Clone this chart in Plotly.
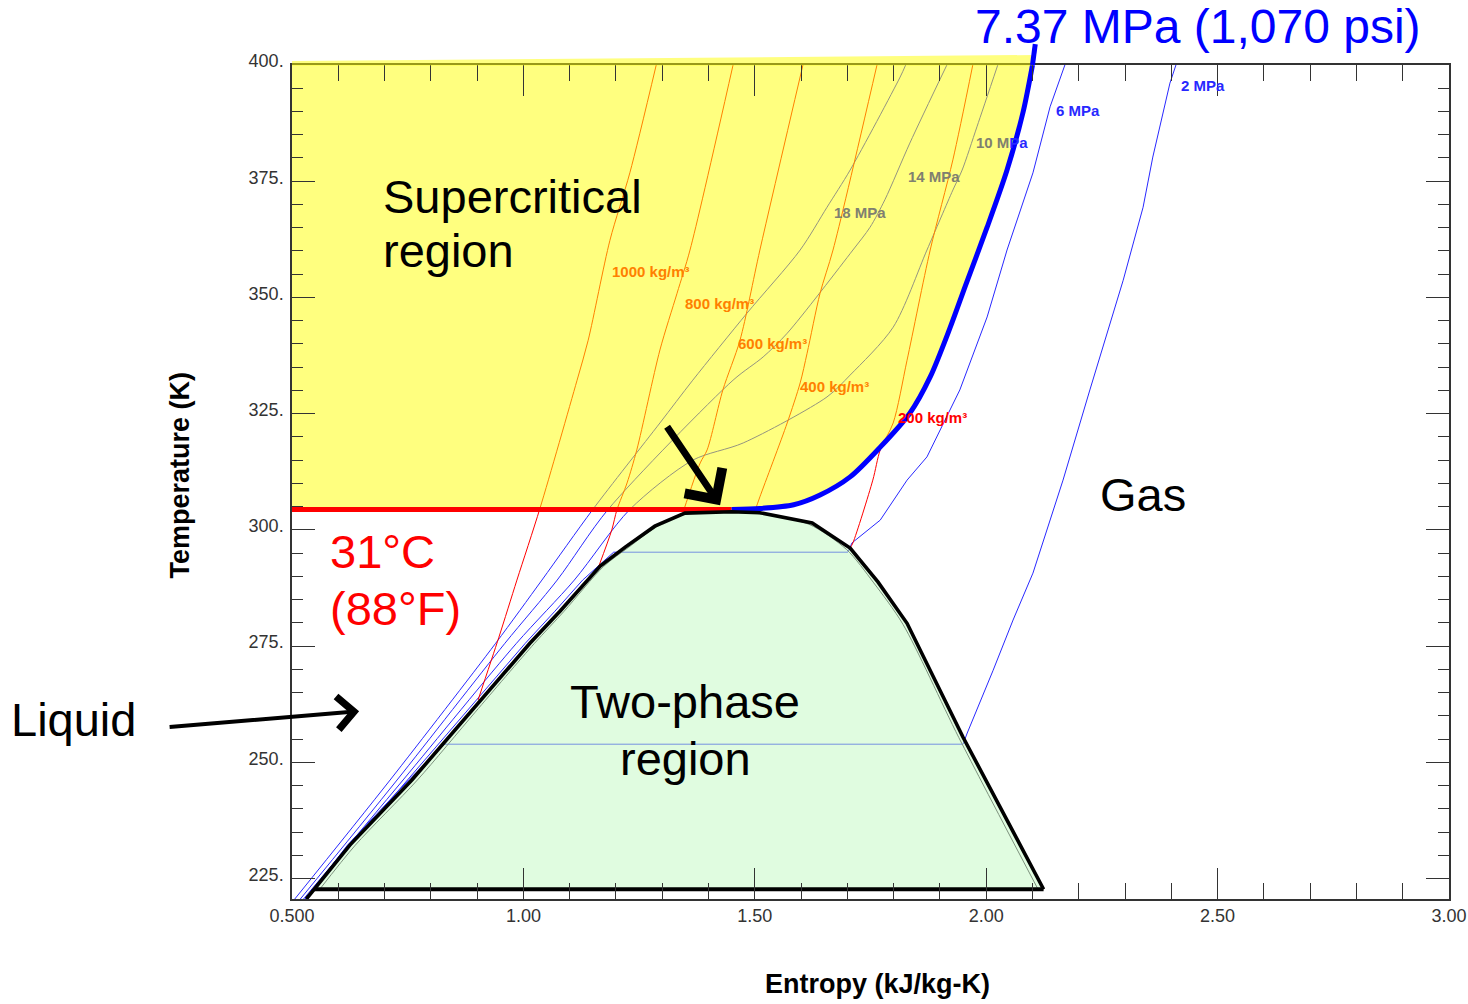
import plotly.graph_objects as go

# ---------------- data (entropy kJ/kg-K, temperature K) ----------------
x_tick_vals = [0.5, 1.0, 1.5, 2.0, 2.5, 3.0]
x_tick_text = ["0.500", "1.00", "1.50", "2.00", "2.50", "3.00"]
y_tick_vals = [225, 250, 275, 300, 325, 350, 375, 400]
y_tick_text = ["225.", "250.", "275.", "300.", "325.", "350.", "375.", "400."]

# saturation dome (black polyline)
dome_S = [0.531, 0.548, 0.625, 0.759, 0.885, 1.014, 1.079, 1.166, 1.220, 1.284, 1.349, 1.450,
          1.511, 1.624, 1.706, 1.766, 1.829, 1.950, 2.124]
dome_T = [220.6, 222.7, 232.2, 246.2, 260.8, 275.6, 282.5, 292.2, 296.3, 300.8, 303.6, 303.9,
          303.7, 301.5, 296.1, 288.8, 279.9, 255.4, 222.7]
base_S = [0.548, 2.124]
base_T = [222.7, 222.7]

# thin grey saturation curve just inside the dome
sat_S = [0.560, 0.637, 0.771, 0.896, 1.024, 1.088, 1.174, 1.228, 1.290, 1.352, 1.450, 1.508,
         1.617, 1.698, 1.757, 1.820, 1.941, 2.112]
sat_T = [222.7, 232.2, 246.2, 260.8, 275.6, 282.5, 292.2, 296.3, 300.8, 303.4, 303.7, 303.5,
         301.2, 295.8, 288.6, 279.7, 255.3, 222.7]

# critical isotherm 31 °C
crit_T = 304.4
crit_S = 1.450

# critical isobar 7.37 MPa (supercritical side)
p737_S = [1.450, 1.511, 1.584, 1.641, 1.706, 1.771, 1.835, 1.879, 1.922, 1.955, 2.002, 2.045, 2.080, 2.100]
p737_T = [304.4, 304.6, 305.4, 307.5, 311.4, 317.8, 325.1, 332.9, 343.5, 352.5, 365.1, 377.4, 390.0, 400.0]

# isobars
p2_S = [0.530, 0.620, 0.752, 0.830, 1.950, 1.959, 2.015, 2.058, 2.101, 2.166, 2.224, 2.296, 2.339, 2.360, 2.397, 2.410]
p2_T = [220.6, 232.2, 246.2, 253.9, 253.9, 256.3, 269.8, 280.6, 290.7, 310.7, 330.1, 353.7, 369.4, 380.2, 396.1, 400.0]
p6_S = [0.528, 0.750, 0.876, 1.004, 1.068, 1.128, 1.195, 1.701, 1.710, 1.771, 1.829, 1.872, 1.943, 2.002,
        2.045, 2.101, 2.138, 2.170]
p6_T = [220.6, 246.2, 260.8, 275.6, 282.5, 289.2, 295.2, 295.2, 297.2, 302.1, 310.7, 315.7, 330.1, 345.8,
        360.2, 376.8, 391.0, 400.0]
p10_S = [0.525, 0.740, 0.985, 1.110, 1.230, 1.366, 1.475, 1.656, 1.706, 1.799, 1.872, 1.928, 1.948, 1.980, 2.025]
p10_T = [220.6, 246.2, 275.6, 289.2, 304.4, 315.0, 318.7, 328.6, 333.3, 343.6, 360.2, 373.1, 377.4, 386.7, 400.0]
p14_S = [0.518, 0.727, 0.960, 1.073, 1.183, 1.453, 1.518, 1.570, 1.712, 1.749, 1.781, 1.835, 1.915]
p14_T = [220.6, 246.2, 275.6, 289.2, 304.4, 332.2, 337.2, 342.3, 360.2, 365.1, 371.0, 383.2, 400.0]
p18_S = [0.506, 0.712, 0.940, 1.040, 1.150, 1.295, 1.366, 1.483, 1.598, 1.656, 1.706, 1.814, 1.826]
p18_T = [220.6, 246.2, 275.6, 289.2, 304.4, 323.0, 332.2, 346.6, 360.2, 369.4, 377.4, 397.4, 400.0]

# isochores (density lines)
d1000_S = [0.902, 0.947, 0.986, 1.036, 1.116, 1.140, 1.187, 1.230, 1.287]
d1000_T = [263.4, 276.9, 289.2, 304.7, 332.2, 340.8, 362.3, 376.8, 400.0]
d800_S = [1.163, 1.191, 1.202, 1.224, 1.245, 1.295, 1.332, 1.360, 1.453]
d800_T = [292.2, 300.0, 304.3, 310.1, 317.2, 338.7, 350.9, 360.2, 400.0]
d600_S = [1.345, 1.382, 1.397, 1.431, 1.468, 1.511, 1.604]
d600_T = [303.8, 314.4, 317.2, 330.1, 340.8, 360.2, 400.0]
d400_S = [1.500, 1.511, 1.570, 1.598, 1.613, 1.641, 1.669, 1.764]
d400_T = [304.0, 307.1, 323.0, 331.6, 338.0, 350.9, 360.2, 400.0]
d200_S = [1.706, 1.712, 1.755, 1.771, 1.799, 1.829, 1.879, 1.928, 1.971]
d200_T = [296.1, 297.2, 310.7, 317.2, 323.0, 336.5, 360.2, 379.6, 400.0]

# ---------------- styles ----------------
FONT = "Liberation Sans, Arial, sans-serif"
BLUE = "rgb(40,40,255)"
RED = "rgb(255,0,0)"

fig = go.Figure()

def line(xs, ys, color, width, shape="linear"):
    fig.add_trace(go.Scatter(x=xs, y=ys, mode="lines", hoverinfo="skip",
                             line=dict(color=color, width=width, shape=shape, smoothing=0.8)))

# thin isobars and isochores
for s, t in [(p2_S, p2_T), (p6_S, p6_T)]:
    line(s, t, BLUE, 1)
for s, t in [(p10_S, p10_T), (p14_S, p14_T), (p18_S, p18_T)]:
    line(s, t, BLUE, 1, "spline")
for s, t in [(d1000_S, d1000_T), (d800_S, d800_T), (d600_S, d600_T), (d400_S, d400_T), (d200_S, d200_T)]:
    line(s, t, RED, 1, "spline")

# two-phase region (semi-transparent green)
fig.add_trace(go.Scatter(x=dome_S[1:] + [base_S[0]], y=dome_T[1:] + [base_T[0]], mode="lines",
                         fill="toself", fillcolor="rgba(193,249,193,0.5)", line=dict(width=0),
                         hoverinfo="skip"))
line(sat_S, sat_T, "rgb(125,145,125)", 1, "spline")

# supercritical region (semi-transparent yellow)
fig.add_trace(go.Scatter(x=[0.5] + p737_S + [0.5], y=[crit_T] + p737_T + [400.0], mode="lines",
                         fill="toself", fillcolor="rgba(255,255,0,0.5)", line=dict(width=0),
                         hoverinfo="skip"))

# heavy lines
line([0.5, crit_S], [crit_T, crit_T], RED, 5)
line(p737_S, p737_T, "rgb(0,0,255)", 5, "spline")
line(dome_S, dome_T, "black", 3.6)
line(base_S, base_T, "black", 4)

# ---------------- annotations ----------------
ann = []
def txt(text, x, y, size, color="black", xanchor="center", xref="paper", yref="paper", bold=False, angle=0):
    ann.append(dict(text=("<b>%s</b>" % text) if bold else text, x=x, y=y, xref=xref, yref=yref,
                    xanchor=xanchor, yanchor="middle", showarrow=False, textangle=angle,
                    font=dict(family=FONT, size=size, color=color)))

ORANGE = "rgb(255,128,0)"
GREY = "rgb(128,128,112)"
txt("1000 kg/m³", 1.276, 355.5, 15, ORANGE, xref="x", yref="y", bold=True)
txt("800 kg/m³", 1.423, 348.8, 15, ORANGE, xref="x", yref="y", bold=True)
txt("600 kg/m³", 1.539, 340.0, 15, ORANGE, xref="x", yref="y", bold=True)
txt("400 kg/m³", 1.673, 330.9, 15, ORANGE, xref="x", yref="y", bold=True)
txt("200 kg/m³", 1.883, 324.1, 15, RED, xref="x", yref="y", bold=True)
txt("18 MPa", 1.727, 368.2, 15, GREY, xref="x", yref="y", bold=True)
txt("14 MPa", 1.887, 376.1, 15, GREY, xref="x", yref="y", bold=True)
txt("10 M<span style='color:rgb(40,40,255)'>Pa</span>", 2.034, 383.4, 15, GREY, xref="x", yref="y", bold=True)
txt("6 MPa", 2.198, 390.3, 15, BLUE, xref="x", yref="y", bold=True)
txt("2 MPa", 2.468, 395.5, 15, BLUE, xref="x", yref="y", bold=True)

txt("7.37 MPa (1,070 psi)", 0.5886, 1.0459, 48, "rgb(0,0,255)", xanchor="left")
txt("Supercritical", 0.0770, 0.8421, 47, xanchor="left")
txt("region", 0.0770, 0.7780, 47, xanchor="left")
txt("31°C", 0.0310, 0.4164, 47, RED, xanchor="left")
txt("(88°F)", 0.0310, 0.3481, 47, RED, xanchor="left")
txt("Two-phase", 0.3397, 0.2366, 47)
txt("region", 0.3397, 0.1690, 47)
txt("Gas", 0.7355, 0.4848, 47)
txt("Liquid", -0.2450, 0.2150, 47, xanchor="left")

txt("Entropy (kJ/kg-K)", 0.506, -0.1025, 27, bold=True)
txt("Temperature (K)", -0.0968, 0.5078, 27, bold=True, angle=-90)

# arrows
ann.append(dict(x=1.425, y=305.3, xref="x", yref="y", ax=-54, ay=-80, text="", showarrow=True,
                arrowhead=4, arrowsize=1.25, arrowwidth=7, arrowcolor="black", standoff=0))
ann.append(dict(x=0.645, y=261.0, xref="x", yref="y", ax=-191, ay=16, text="", showarrow=True,
                arrowhead=4, arrowsize=1.6, arrowwidth=4, arrowcolor="black", standoff=0))

shapes = [
    # yellow overlay spilling above the frame
    dict(type="path", xref="x", yref="paper",
         path="M 0.5,0.9994 L 0.5,1.0048 L 2.104,1.0120 L 2.100,0.9994 Z",
         fillcolor="rgba(255,255,0,0.5)", line=dict(width=0), layer="above"),
    # critical isobar running past the frame
    dict(type="line", xref="x", yref="paper", x0=p737_S[-1], y0=1.0, x1=2.106, y1=1.025,
         line=dict(color="rgb(0,0,255)", width=5), layer="above"),
]

axis_common = dict(showline=True, linewidth=1.5, linecolor="#333", mirror="ticks", showgrid=False,
                   zeroline=False, ticks="inside", tickwidth=1, tickcolor="#333",
                   tickfont=dict(family=FONT, size=18, color="#333"))

fig.update_layout(
    width=1468, height=1004, autosize=False,
    margin=dict(l=292, r=19, t=65, b=105, autoexpand=False),
    paper_bgcolor="white", plot_bgcolor="white",
    showlegend=False, font=dict(family=FONT),
    annotations=ann, shapes=shapes,
    xaxis=dict(range=[0.5, 3.0], tickmode="array", tickvals=x_tick_vals, ticktext=x_tick_text,
               ticklen=31, ticklabelstandoff=0,
               minor=dict(tickmode="linear", tick0=0.5, dtick=0.1, ticks="inside", ticklen=16,
                          tickwidth=1, tickcolor="#333", showgrid=False),
               **axis_common),
    yaxis=dict(range=[220.6, 400.0], tickmode="array", tickvals=y_tick_vals, ticktext=y_tick_text,
               ticklen=23, ticklabelstandoff=3, ticklabelshift=-4,
               minor=dict(tickmode="linear", tick0=225, dtick=5, ticks="inside", ticklen=11,
                          tickwidth=1, tickcolor="#333", showgrid=False),
               **axis_common),
)

fig.write_html("out.html", config={"displayModeBar": False})
